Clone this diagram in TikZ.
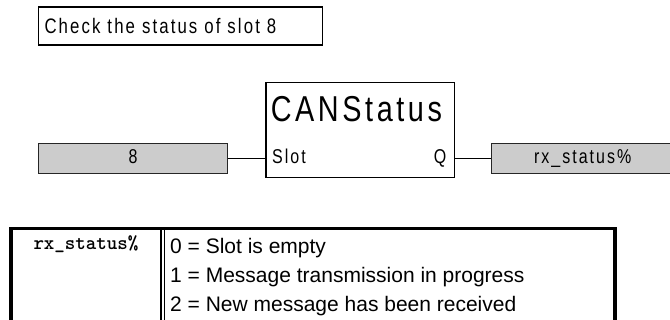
\documentclass[tikz,border=0pt]{standalone}
\usepackage{fontspec}
\setmainfont{Liberation Sans}
\newfontfamily\fbdfont[FakeStretch=0.8,LetterSpace=10]{Liberation Sans}
\usepackage{tikz}

\begin{document}
\begin{tikzpicture}[x=1pt,y=-1pt,
  fbdbox/.style={draw=black,line width=1.4pt,inner sep=0pt},
  varbox/.style={draw=black!85,fill=black!20,line width=1pt,inner sep=0pt,minimum height=30pt},
  pinlabel/.style={font=\fbdfont\fontsize{20}{24}\selectfont,inner sep=0pt},
  rowtext/.style={font=\fontsize{21}{25}\selectfont,inner sep=0pt,anchor=base west}]
\useasboundingbox (0,0) rectangle (670,320);

\node[fbdbox,minimum width=284pt,minimum height=38pt,text width=272pt,align=left,
  font=\fbdfont\fontsize{21}{25}\selectfont] (comment) at (180.5,25.9) {Check the status of slot 8};

\node[fbdbox,minimum width=188.4pt,minimum height=95pt] (canstatus) at (360,129.8) {};
\node[inner sep=0pt,anchor=base,font=\fbdfont\fontsize{36}{40}\selectfont] (title) at (356.4,121.7) {CANStatus};
\node[pinlabel,anchor=base west] (pinslot) at (272,164) {Slot};
\node[pinlabel,anchor=base east] (pinq) at (446.5,164) {Q};

\node[varbox,minimum width=189.2pt] (slotin) at (133.1,158.3) {};
\node[pinlabel,anchor=base] (slotval) at (133.1,164) {8};
\node[varbox,minimum width=182.6pt] (statusout) at (582.7,158.3) {};
\node[pinlabel,anchor=base] (statusval) at (582.7,164) {rx\_status\%};

\draw[line width=1.4pt] (slotin.east) -- (slotin.east -| canstatus.west);
\draw[line width=1.4pt] (canstatus.east |- statusout.west) -- (statusout.west);

\draw[line width=3.5pt] (11,335) -- (11,228.5) -- (615,228.5) -- (615,335);
\draw[line width=1.3pt] (161,228.5) -- (161,335);
\draw[line width=1pt] (164.5,228.5) -- (164.5,335);

\node[inner sep=0pt,anchor=base,font=\ttfamily\bfseries\fontsize{20}{24}\selectfont] (varname) at (86,250) {rx\_status\%};
\node[rowtext] (row0) at (170,253.3) {0 = Slot is empty};
\node[rowtext] (row1) at (170,282.7) {1 = Message transmission in progress};
\node[rowtext] (row2) at (170,311.7) {2 = New message has been received};
\end{tikzpicture}
\end{document}
